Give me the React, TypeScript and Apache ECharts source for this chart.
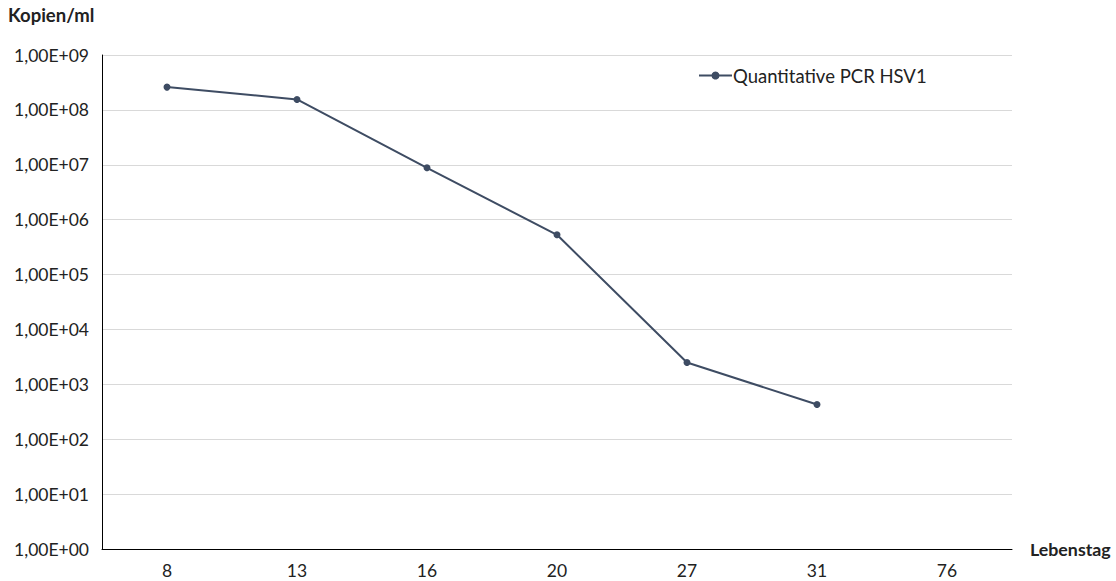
import React, { useEffect, useRef } from "react";
import * as echarts from "echarts";

const categories = ["8", "13", "16", "20", "27", "31", "76"];
const pcrValues: (number | null)[] = [2.6e8, 1.55e8, 8.8e6, 5.3e5, 2.5e3, 4.3e2, null];
const seriesName = "Quantitative PCR HSV1";
const yTitle = "Kopien/ml";
const xTitle = "Lebenstag";

const FONT = "Lato, 'Noto Sans', sans-serif";
const LINE_COLOR = "#3e4c63";

export default function App() {
  const ref = useRef<HTMLDivElement>(null);
  useEffect(() => {
    if (!ref.current) return;
    const chart = echarts.init(ref.current, undefined, { renderer: "svg" });
    chart.setOption({
      animation: false,
      textStyle: { fontFamily: FONT, fontSize: 17.5 },
      title: {
        text: yTitle,
        left: 3,
        top: 0,
        textStyle: { fontFamily: FONT, fontSize: 18.5, fontWeight: "bold", color: "#222" },
      },
      legend: {
        data: [seriesName],
        left: 693,
        top: 61,
        itemWidth: 33,
        itemHeight: 10,
        itemGap: 0,
        textStyle: { fontFamily: FONT, fontSize: 18.5, color: "#222", padding: [0, 0, 0, -4] },
      },
      grid: { left: 102, right: 104, top: 55, bottom: 32, containLabel: false },
      xAxis: {
        type: "category",
        data: categories,
        name: xTitle,
        nameLocation: "end",
        nameGap: 18,
        nameTextStyle: { fontFamily: FONT, fontSize: 17.8, fontWeight: "bold", color: "#222", verticalAlign: "middle" },
        axisLine: { lineStyle: { color: "#000", width: 1 } },
        axisTick: { show: false },
        axisLabel: { fontFamily: FONT, fontSize: 17.5, color: "#222", margin: 12 },
      },
      yAxis: {
        type: "log",
        logBase: 10,
        min: 1,
        max: 1e9,
        axisLine: { show: true, lineStyle: { color: "#000", width: 1 } },
        axisTick: { show: false },
        minorTick: { show: false },
        splitLine: { show: true, lineStyle: { color: "#d9d9d9", width: 1 } },
        axisLabel: {
          fontFamily: FONT,
          fontSize: 17.5,
          color: "#222",
          margin: 13,
          formatter: (v: number) => {
            const e = Math.round(Math.log10(v));
            return "1,00E+" + String(e).padStart(2, "0");
          },
        },
      },
      series: [
        {
          name: seriesName,
          type: "line",
          data: pcrValues,
          symbol: "circle",
          symbolSize: 7,
          lineStyle: { color: LINE_COLOR, width: 2 },
          itemStyle: { color: LINE_COLOR },
        },
      ],
    });
    return () => chart.dispose();
  }, []);
  return (
    <div
      ref={ref}
      style={{ position: "fixed", left: 0, top: 0, width: 1116, height: 581, background: "#fff" }}
    />
  );
}
